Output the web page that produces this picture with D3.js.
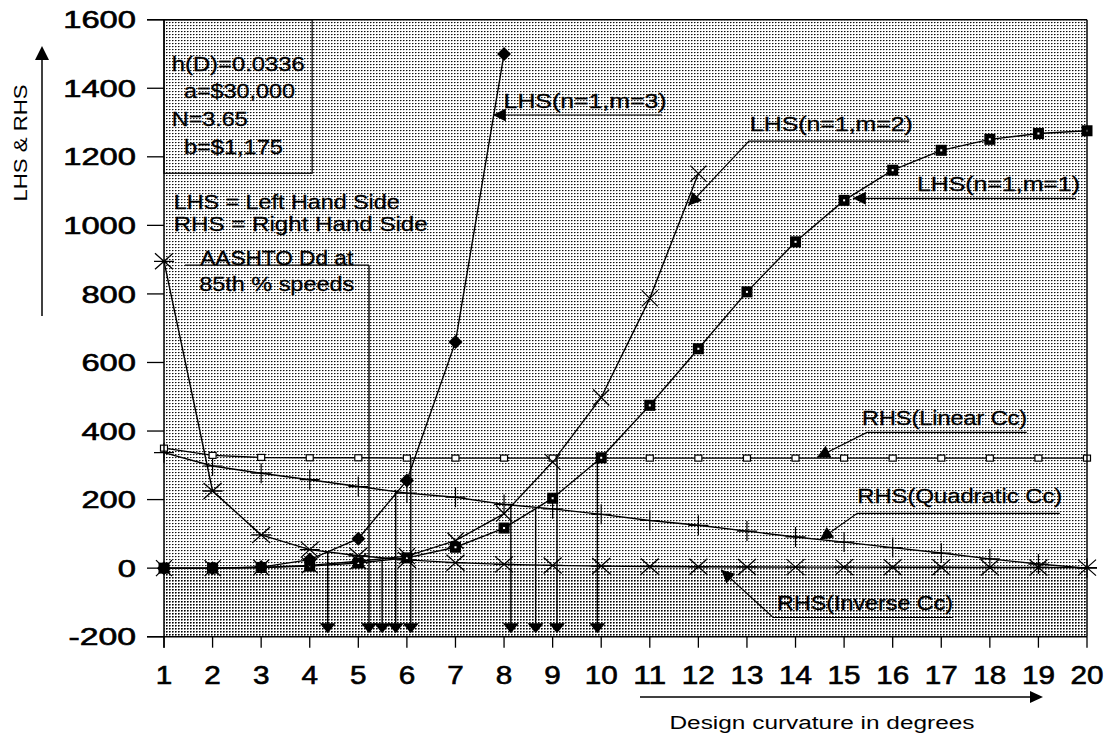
<!DOCTYPE html>
<html>
<head>
<meta charset="utf-8">
<script src="https://cdn.jsdelivr.net/npm/d3@7"></script>
<style>
  body { margin: 0; background: #fff; }
  svg { display: block; }
  text { font-family: "Liberation Sans", Arial, Helvetica, sans-serif; fill: #000; stroke: #000; stroke-width: 0.3; }
  text.tick { stroke-width: 0.6; }
  text.title { stroke-width: 0; }
</style>
</head>
<body>
<svg id="chart" width="1106" height="733"></svg>
<script>
// Design curvature (degrees) on the category axis
const degrees = [1, 2, 3, 4, 5, 6, 7, 8, 9, 10, 11, 12, 13, 14, 15, 16, 17, 18, 19, 20];

// Left hand side curves
const lhsM3 = [0, 0, 3, 25, 86, 256, 660, 1500];
const lhsM2 = [0, 0, 2, 8, 20, 35, 80, 159, 310, 498, 787, 1151];
const lhsM1 = [0, 0, 2, 6, 15, 30, 61, 117, 204, 322, 475, 640, 806, 952, 1073, 1161, 1219, 1251, 1268, 1276];

// Right hand side curves
const rhsLinear = [350, 329, 323, 322, 322, 321, 321, 321, 321, 321, 321, 321, 321, 321, 321, 321, 321, 321, 321, 321];
const rhsQuadratic = [337, 298, 277, 258, 238, 219, 207, 186, 173, 157, 139, 125, 108, 91, 76, 60, 44, 27, 12, 0];
const rhsInverse = [895, 225, 97, 54, 36, 24, 16, 11, 8, 6, 5, 4, 3.5, 3, 3, 2.5, 2.5, 2, 2, 1.5];

const yTicks = [-200, 0, 200, 400, 600, 800, 1000, 1200, 1400, 1600];

// AASHTO design degrees at 85th percentile speeds: where each drop line starts
const ddX = [4.37, 5.22, 5.49, 5.77, 6.08, 8.14, 8.65, 9.09, 9.92];
const ddTop = [47, 884, 22, 229, 319, 186, 176, 319, 322];

const paramLines = ["h(D)=0.0336", "a=$30,000", "N=3.65", "b=$1,175"];

const svg = d3.select("#chart");
const x = d3.scaleLinear().domain([1, 20]).range([164, 1087]);
const y = d3.scaleLinear().domain([-200, 1600]).range([636.7, 19.7]);

// ---------- background stipple ----------
const defs = svg.append("defs");
function dotPattern(id, dots) {
  const p = defs.append("pattern").attr("id", id)
    .attr("width", 3).attr("height", 3).attr("patternUnits", "userSpaceOnUse");
  p.append("rect").attr("width", 3).attr("height", 3).attr("fill", "#fff");
  dots.forEach(([dx, dy, c]) => p.append("rect").attr("x", dx).attr("y", dy)
    .attr("width", 1).attr("height", 1).attr("fill", c));
}
dotPattern("dotsLight", [[1, 1, "#111"], [2, 1, "#8a8a8a"], [1, 2, "#d6d6d6"]]);
dotPattern("dotsDense", [[1, 1, "#000"], [2, 1, "#555"], [1, 2, "#666"], [2, 2, "#bbb"]]);

svg.append("rect").attr("x", x(1)).attr("y", y(1600))
  .attr("width", x(20) - x(1)).attr("height", y(0) - y(1600)).attr("fill", "url(#dotsLight)");
svg.append("rect").attr("x", x(1)).attr("y", y(0))
  .attr("width", x(20) - x(1)).attr("height", y(-200) - y(0)).attr("fill", "url(#dotsDense)");

// ---------- helpers ----------
function txt(g, px, py, s, size, width, anchor) {
  const t = g.append("text").attr("x", px).attr("y", py).attr("dy", "0.36em")
    .attr("font-size", size).attr("text-anchor", anchor || "start").text(s);
  if (width) t.attr("textLength", width).attr("lengthAdjust", "spacingAndGlyphs");
  return t;
}
function arrowHead(g, fx, fy, tx, ty, len, half) {
  const a = Math.atan2(ty - fy, tx - fx);
  const bx = tx - len * Math.cos(a), by = ty - len * Math.sin(a);
  const nx = -Math.sin(a) * half, ny = Math.cos(a) * half;
  g.append("path").attr("d", `M${tx},${ty}L${bx + nx},${by + ny}L${bx - nx},${by - ny}Z`).attr("fill", "#000");
}
function leader(g, pts, len, half) {
  const p = pts.map(([a, b]) => [x(a), y(b)]);
  g.append("path").attr("d", d3.line()(p)).attr("fill", "none").attr("stroke", "#000").attr("stroke-width", 1.2);
  const n = p.length;
  arrowHead(g, p[n - 2][0], p[n - 2][1], p[n - 1][0], p[n - 1][1], len || 13, half || 6.5);
}

const ann = svg.append("g");

// ---------- parameter box and notes ----------
ann.append("rect").attr("x", x(1)).attr("y", y(1600))
  .attr("width", x(4.05) - x(1)).attr("height", y(1152) - y(1600))
  .attr("fill", "none").attr("stroke", "#000").attr("stroke-width", 1.2);
const paramPos = [[1.16, 1473, 133], [1.41, 1395, 111], [1.16, 1313, 76], [1.41, 1229, 99]];
paramLines.forEach((s, i) => txt(ann, x(paramPos[i][0]), y(paramPos[i][1]), s, 21, paramPos[i][2]));
txt(ann, x(1.2), y(1070), "LHS = Left Hand Side", 21, 226);
txt(ann, x(1.2), y(1005), "RHS = Right Hand Side", 21, 254);
txt(ann, x(3.32), y(907), "AASHTO Dd at", 21, 153, "middle");
txt(ann, x(3.32), y(831), "85th % speeds", 21, 155, "middle");

// ---------- series ----------
const lineGen = d3.line().x((d, i) => x(degrees[i])).y(d => y(d));
const series = [rhsInverse, rhsQuadratic, rhsLinear, lhsM1, lhsM2, lhsM3];
const plot = svg.append("g");
series.forEach(s => plot.append("path").attr("d", lineGen(s))
  .attr("fill", "none").attr("stroke", "#000").attr("stroke-width", 1.4));

// drop lines to the AASHTO design degrees
ddX.forEach((d, i) => {
  plot.append("line").attr("x1", x(d)).attr("x2", x(d)).attr("y1", y(ddTop[i])).attr("y2", y(-185))
    .attr("stroke", "#000").attr("stroke-width", 1.4);
  arrowHead(plot, x(d), y(0), x(d), y(-190), 10, 8);
});
// label leader joining the AASHTO note to its drop line
plot.append("path").attr("d", d3.line()([[x(1.43), y(884)], [x(ddX[1]), y(884)]]))
  .attr("stroke", "#000").attr("stroke-width", 1.2);

// markers
const mk = svg.append("g");
// inverse Cc: asterisks
rhsInverse.forEach((v, i) => {
  const cx = x(degrees[i]), cy = y(v);
  mk.append("path").attr("d", `M${cx - 9},${cy - 8}L${cx + 9},${cy + 8}M${cx - 9},${cy + 8}L${cx + 9},${cy - 8}M${cx - 10},${cy}L${cx + 10},${cy}`)
    .attr("stroke", "#000").attr("stroke-width", 1.3).attr("fill", "none");
});
// quadratic Cc: plus signs
rhsQuadratic.forEach((v, i) => {
  const cx = x(degrees[i]), cy = y(v);
  mk.append("path").attr("d", `M${cx - 10},${cy}L${cx + 10},${cy}M${cx},${cy - 10}L${cx},${cy + 10}`)
    .attr("stroke", "#000").attr("stroke-width", 1.2);
});
// linear Cc: small open squares
rhsLinear.forEach((v, i) => {
  const cx = x(degrees[i]), cy = y(v);
  mk.append("rect").attr("x", cx - 3.5).attr("y", cy - 3).attr("width", 7).attr("height", 6)
    .attr("fill", "#fff").attr("stroke", "#000").attr("stroke-width", 1.2);
});
// m = 1: filled squares
lhsM1.forEach((v, i) => {
  const cx = x(degrees[i]), cy = y(v);
  mk.append("rect").attr("x", cx - 5.5).attr("y", cy - 5.5).attr("width", 11).attr("height", 11).attr("fill", "#000");
  mk.append("rect").attr("x", cx - 1).attr("y", cy - 1).attr("width", 2).attr("height", 2).attr("fill", "#fff");
});
// m = 2: crosses
lhsM2.forEach((v, i) => {
  const cx = x(degrees[i]), cy = y(v);
  mk.append("path").attr("d", `M${cx - 8},${cy - 8}L${cx + 8},${cy + 8}M${cx - 8},${cy + 8}L${cx + 8},${cy - 8}`)
    .attr("stroke", "#000").attr("stroke-width", 1.3);
});
// m = 3: filled diamonds
lhsM3.forEach((v, i) => {
  const cx = x(degrees[i]), cy = y(v);
  mk.append("path").attr("d", `M${cx},${cy - 7}L${cx + 7},${cy}L${cx},${cy + 7}L${cx - 7},${cy}Z`).attr("fill", "#000");
});

// ---------- series labels ----------
txt(ann, x(7.99), y(1365), "LHS(n=1,m=3)", 21, 163);
leader(ann, [[11.25, 1322], [7.77, 1322]]);
txt(ann, x(13.06), y(1298), "LHS(n=1,m=2)", 21, 163);
leader(ann, [[16.34, 1246], [13.04, 1246], [11.79, 1057]]);
txt(ann, x(16.5), y(1123), "LHS(n=1,m=1)", 21, 163);
leader(ann, [[19.77, 1079], [15.18, 1079]]);
txt(ann, x(15.37), y(440), "RHS(Linear Cc)", 21, 165);
leader(ann, [[18.76, 396], [15.47, 396], [14.44, 323]]);
txt(ann, x(15.27), y(212), "RHS(Quadratic Cc)", 21, 205);
leader(ann, [[19.44, 160], [15.27, 160], [14.5, 83]]);
txt(ann, x(13.62), y(-100), "RHS(Inverse Cc)", 21, 176);
leader(ann, [[17.24, -144], [13.54, -144], [12.47, -5]]);

// ---------- axes ----------
const ax = svg.append("g").attr("stroke", "#000");
// frame
ax.append("line").attr("x1", 147).attr("x2", x(20)).attr("y1", y(1600)).attr("y2", y(1600)).attr("stroke-width", 1.5);
ax.append("line").attr("x1", x(20)).attr("x2", x(20)).attr("y1", y(1600)).attr("y2", y(-200)).attr("stroke-width", 1.5);
ax.append("line").attr("x1", x(1)).attr("x2", x(1)).attr("y1", y(1600)).attr("y2", y(-200) + 11).attr("stroke-width", 1.5);
ax.append("line").attr("x1", 147).attr("x2", x(20)).attr("y1", y(-200)).attr("y2", y(-200)).attr("stroke-width", 1.5);
// y ticks
yTicks.forEach(t => ax.append("line").attr("x1", 147).attr("x2", x(1)).attr("y1", y(t)).attr("y2", y(t)).attr("stroke-width", 1.3));
// x ticks
degrees.forEach(d => ax.append("line").attr("x1", x(d)).attr("x2", x(d)).attr("y1", y(-200)).attr("y2", y(-200) + 11).attr("stroke-width", 1.3));

const lab = svg.append("g");
yTicks.forEach(t => {
  const s = String(t);
  const w = s.replace("-", "").length * 18.2 + (s.startsWith("-") ? 13 : 0);
  txt(lab, 136, y(t), s, 24, w, "end").attr("class", "tick");
});
degrees.forEach(d => {
  const s = String(d);
  txt(lab, x(d), 675, s, 25, s.length * 16.5, "middle").attr("class", "tick");
});

// axis titles with direction arrows
lab.append("text").attr("class", "title").attr("transform", "translate(21,143) rotate(-90)").attr("dy", "0.36em")
  .attr("font-size", 18).attr("text-anchor", "middle")
  .attr("textLength", 117).attr("lengthAdjust", "spacingAndGlyphs").text("LHS & RHS");
lab.append("line").attr("x1", 42).attr("x2", 42).attr("y1", 316).attr("y2", 58).attr("stroke", "#000").attr("stroke-width", 1.5);
arrowHead(lab, 42, 316, 42, 46, 14, 7);

txt(lab, 822, 723, "Design curvature in degrees", 18, 305, "middle").attr("class", "title");
lab.append("line").attr("x1", 640).attr("x2", 1032).attr("y1", 697).attr("y2", 697).attr("stroke", "#000").attr("stroke-width", 1.5);
arrowHead(lab, 640, 697, 1043, 697, 13, 6);
</script>
</body>
</html>
